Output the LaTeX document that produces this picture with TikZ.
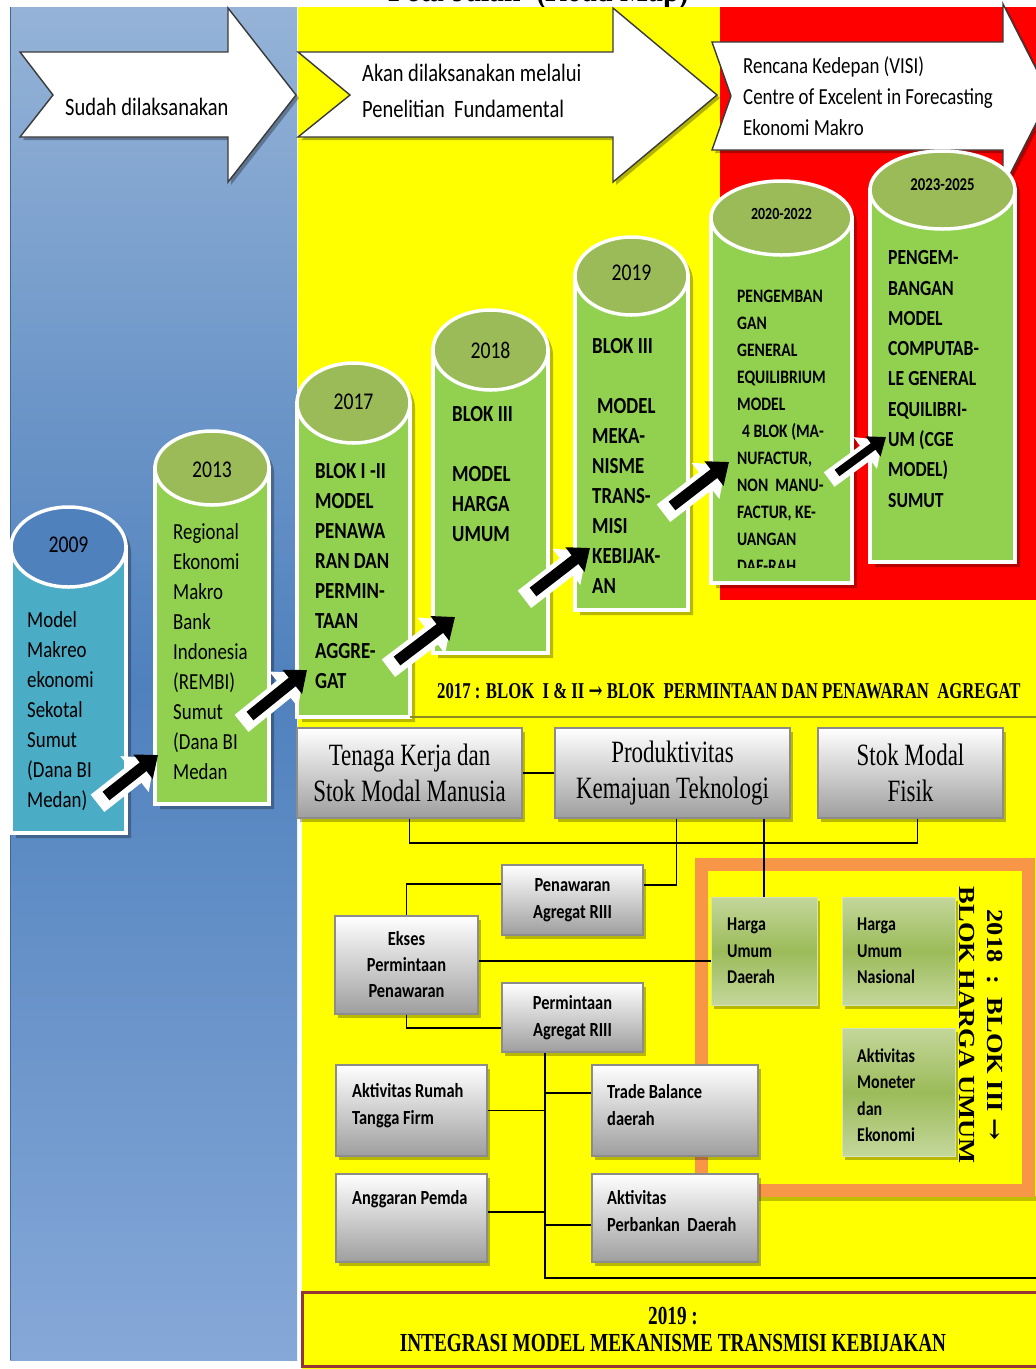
\documentclass[tikz,border=0pt]{standalone}
\usepackage{fontspec}
\setmainfont{Carlito}[FakeStretch=0.82]
\newfontfamily\serifc{Liberation Serif}[FakeStretch=0.74]
\newfontfamily\serifw{Liberation Serif}[FakeStretch=1.15]
\newfontfamily\symc{DejaVu Serif}[FakeStretch=0.74]
\newfontfamily\symw{DejaVu Serif}[FakeStretch=1.15]
\usetikzlibrary{arrows.meta,calc}
\newcommand\fsz[2]{\fontsize{#1}{#2}\selectfont}

\definecolor{bgyellow}{HTML}{FFFF00}
\definecolor{bgred}{HTML}{FF0000}
\definecolor{panelA}{HTML}{95B3D7}
\definecolor{panelB}{HTML}{4F81BD}
\definecolor{panelC}{HTML}{86A8D8}
\definecolor{cylbody}{HTML}{92D050}
\definecolor{cyltop}{HTML}{9BBB59}
\definecolor{tealbody}{HTML}{4BACC6}
\definecolor{bluetop}{HTML}{4F81BD}
\definecolor{frameorange}{HTML}{F79646}
\definecolor{lightgreen}{HTML}{C4D79B}
\definecolor{midgreen}{HTML}{9BBB59}
\definecolor{darkred}{HTML}{943634}
\definecolor{outline}{HTML}{3A3A3A}
\definecolor{yshadow}{HTML}{8C8C20}

% cylinder: centre x, top-ellipse y, x radius, y radius, bottom y, body colour, top colour
\newcommand\drawcyl[7]{%
  \fill[black, opacity=.28] ({#1-#3+5},{#2+5}) arc[start angle=180, end angle=0, x radius=#3pt, y radius=#4pt]
     -- ({#1+#3+5},{#5+5}) -- ({#1-#3+5},{#5+5}) -- cycle;
  \draw[white, line width=3.5pt, fill=#6] ({#1-#3},#2) rectangle ({#1+#3},#5);
  \draw[white, line width=3.5pt, fill=#7] (#1,#2) ellipse [x radius=#3pt, y radius=#4pt];
}

\begin{document}
\begin{tikzpicture}[x=1pt, y=-1pt,
  chev/.style={fill=white, draw=outline, line width=1.4pt, line join=miter},
  chevshade/.style={fill=black, opacity=.3},
  link/.style={draw=black, line width=1.8pt},
  capt/.style={inner sep=0, anchor=west, align=left, text=black},
  yearlbl/.style={inner sep=0, text=black},
  gbox/.style={draw=black!45, line width=1.2pt, top color=white, bottom color=black!38,
     inner sep=0, align=center,
     preaction={fill=black, opacity=.28, transform canvas={shift={(3pt,-4pt)}}}},
  grbox/.style={draw=lightgreen!70!white, line width=1pt, top color=lightgreen,
     bottom color=lightgreen, middle color=midgreen, inner sep=0,
     preaction={fill=black, opacity=.28, transform canvas={shift={(3pt,-4pt)}}}},
  barW/.style={white, line width=22pt, -{Triangle[length=26pt,width=44pt]},
     shorten <=-7pt, transform canvas={shift={(-3pt,-3pt)}}},
  barB/.style={black, line width=11pt, -{Triangle[length=19pt,width=30pt]}},
  sbarW/.style={white, line width=18pt, -{Triangle[length=22pt,width=38pt]},
     shorten <=-6pt, transform canvas={shift={(-3pt,-3pt)}}},
  sbarB/.style={black, line width=8pt, -{Triangle[length=16pt,width=24pt]}},
]
\useasboundingbox (0,0) rectangle (1036,1369);
\clip (0,0) rectangle (1036,1369);

% ---------- page and coloured panels ----------
\fill[white] (0,0) rectangle (1036,1369);
\node[anchor=base east, inner sep=0, font=\serifc\bfseries\fsz{40}{44}] (title) at (690,1) {Peta Jalan\ \ (Road Map)};
\shade[top color=panelA, bottom color=panelC, middle color=panelB] (10,7) rectangle (297,1360);
\draw[panelB!80!black, line width=1pt] (10.5,7) -- (10.5,1360);
\fill[bgyellow] (298,7) rectangle (1036,1369);
\fill[bgred] (720,7) rectangle (1036,600);
\fill[white] (297.5,818) rectangle (301.5,1369);

% ---------- phase arrows ----------
\fill[chevshade, shift={(3,3)}] (20,52) -- (228,52) -- (228,8) -- (296,95) -- (228,182) -- (228,137) -- (20,137) -- (53,95) -- cycle;
\path[chev] (20,52) -- (228,52) -- (228,8) -- (296,95) -- (228,182) -- (228,137) -- (20,137) -- (53,95) -- cycle;
\fill[chevshade, shift={(3,3)}] (298,52) -- (613,52) -- (613,8) -- (717,95) -- (613,182) -- (613,137) -- (298,137) -- (350,95) -- cycle;
\path[chev] (298,52) -- (613,52) -- (613,8) -- (717,95) -- (613,182) -- (613,137) -- (298,137) -- (350,95) -- cycle;
\fill[chevshade, shift={(3,3)}] (712,42) -- (1003,42) -- (1003,4) -- (1050,96) -- (1003,188) -- (1003,150) -- (712,150) -- (731,96) -- cycle;
\path[chev] (712,42) -- (1003,42) -- (1003,4) -- (1050,96) -- (1003,188) -- (1003,150) -- (712,150) -- (731,96) -- cycle;

\node[capt, font=\fsz{25}{30}] (done) at (65,107) {Sudah dilaksanakan};
\node[capt, font=\fsz{25}{36}] (plan) at (362,91) {Akan dilaksanakan melalui\\Penelitian\ \ Fundamental};
\node[capt, font=\fsz{23}{31}] (visi) at (743,96) {Rencana Kedepan (VISI)\\Centre of Excelent in Forecasting\\Ekonomi Makro};

% ---------- cylinders ----------
\drawcyl{68.5}{547}{57.5}{40}{833}{tealbody}{bluetop}
\drawcyl{212}{468}{57}{37}{804}{cylbody}{cyltop}
\drawcyl{353.5}{403}{56.5}{40}{717}{cylbody}{cyltop}
\drawcyl{490.5}{350}{57.5}{40}{653}{cylbody}{cyltop}
\drawcyl{631.5}{276}{56.5}{39}{610}{cylbody}{cyltop}
\drawcyl{781.5}{218}{70.5}{37}{583}{cylbody}{cyltop}
\drawcyl{942.5}{190}{72.5}{39}{562}{cylbody}{cyltop}

\node[yearlbl, font=\fsz{24}{26}] (y09) at (68.5,545) {2009};
\node[yearlbl, font=\fsz{24}{26}] (y13) at (212,470) {2013};
\node[yearlbl, font=\fsz{24}{26}] (y17) at (353.5,402) {2017};
\node[yearlbl, font=\fsz{24}{26}] (y18) at (490.5,350) {2018};
\node[yearlbl, font=\fsz{24}{26}] (y19) at (631.5,273) {2019};
\node[yearlbl, font=\bfseries\fsz{17}{20}] (y20) at (781.5,214) {2020-2022};
\node[yearlbl, font=\bfseries\fsz{18}{20}] (y23) at (942.5,185) {2023-2025};

\node[capt, font=\fsz{23}{30}] (t09) at (27,711) {Model\\Makreo\\ekonomi\\Sekotal\\Sumut\\(Dana BI\\Medan)};
\node[capt, font=\fsz{23}{30}] (t13) at (173,652) {Regional\\Ekonomi\\Makro\\Bank\\Indonesia\\(REMBI)\\Sumut\\(Dana BI\\Medan};
\node[capt, font=\bfseries\fsz{23}{30}] (t17) at (315,576) {BLOK I -II\\MODEL\\PENAWA\\RAN DAN\\PERMIN-\\TAAN\\AGGRE-\\GAT};
\node[capt, font=\bfseries\fsz{23}{30}] (t18) at (452,474) {BLOK III\\[30pt]MODEL\\HARGA\\UMUM};
\node[capt, font=\bfseries\fsz{23}{30}] (t19) at (592,466) {BLOK III\\[30pt]\hspace{5pt}MODEL\\MEKA-\\NISME\\TRANS-\\MISI\\KEBIJAK-\\AN};
\begin{scope}
  \clip (711,230) rectangle (852,567);
  \node[capt, font=\bfseries\fsz{19}{27}] (t20) at (737,431) {PENGEMBAN\\GAN\\GENERAL\\EQUILIBRIUM\\MODEL\\\hspace{5pt}4 BLOK (MA-\\NUFACTUR,\\NON\ \ MANU-\\FACTUR, KE-\\UANGAN\\DAE-RAH};
\end{scope}
\node[capt, font=\bfseries\fsz{21.5}{30.3}] (t23) at (888,379) {PENGEM-\\BANGAN\\MODEL\\COMPUTAB-\\LE GENERAL\\EQUILIBRI-\\UM (CGE\\MODEL)\\SUMUT};

% ---------- progression arrows ----------
\coordinate (a1t) at (106,796);  \coordinate (a1h) at (158,755);
\coordinate (a2t) at (250,716);  \coordinate (a2h) at (307,670);
\coordinate (a3t) at (397,661);  \coordinate (a3h) at (455,617);
\coordinate (a4t) at (533,592);  \coordinate (a4h) at (590,548);
\coordinate (a5t) at (672,506);  \coordinate (a5h) at (729,462);
\coordinate (a6t) at (837,473);  \coordinate (a6h) at (886,437);
\foreach \i in {1,...,5}{
  \draw[barW] (a\i t) -- (a\i h);
  \draw[barB] (a\i t) -- (a\i h);
}
\draw[sbarW] (a6t) -- (a6h);
\draw[sbarB] (a6t) -- (a6h);

% ---------- block I & II ----------
\draw[yshadow, line width=2.5pt] (410,717) -- (1036,717);
\node[anchor=west, inner sep=0, font=\serifc\bfseries\fsz{22.6}{26}] (blok12) at (437,691)
  {2017 : BLOK\ \ I \& II {\symc\bfseries →} BLOK\ \ PERMINTAAN DAN PENAWARAN\ \ AGREGAT};

% ---------- block III frame ----------
\fill[black, opacity=.25] (696,1196) rectangle (1036,1201);
\draw[frameorange, line width=13pt] (701.5,864.5) rectangle (1028.5,1190);
\node[rotate=-90, inner sep=0, align=center, font=\serifw\bfseries\fsz{23}{28}] (blok3) at (981,1025)
  {2018\ \ :\ \ BLOK III\ {\symw →}\\BLOK HARGA UMUM};

% ---------- boxes ----------
\node[gbox, minimum width=225pt, minimum height=90pt, font=\serifc\fsz{31}{36}] (tk) at (409.5,773) {Tenaga Kerja dan\\Stok Modal Manusia};
\node[gbox, minimum width=235pt, minimum height=90pt, font=\serifc\fsz{31}{36}] (pk) at (672.5,773) {Produktivitas\\Kemajuan Teknologi};
\node[gbox, minimum width=185pt, minimum height=90pt, font=\serifc\fsz{31}{36}] (sm) at (910.5,773) {Stok Modal\\Fisik};

\node[gbox, minimum width=141pt, minimum height=70pt, font=\bfseries\fsz{20}{27}] (pa) at (572.5,900) {Penawaran\\Agregat RIII};
\node[gbox, minimum width=143pt, minimum height=98pt, font=\bfseries\fsz{20}{26}] (ek) at (406.5,965) {Ekses\\Permintaan\\Penawaran};
\node[gbox, minimum width=141pt, minimum height=69pt, font=\bfseries\fsz{20}{27}] (pm) at (572.5,1017.5) {Permintaan\\Agregat RIII};

\node[gbox, minimum width=151pt, minimum height=91pt] (ar) at (411.5,1110.5) {};
\node[gbox, minimum width=151pt, minimum height=88pt] (ap) at (411.5,1218) {};
\node[gbox, minimum width=166pt, minimum height=91pt] (tb) at (675,1110.5) {};
\node[gbox, minimum width=166pt, minimum height=88pt] (pb) at (675,1218) {};
\node[capt, font=\bfseries\fsz{20}{27}] (arl) at (352,1105.5) {Aktivitas Rumah\\Tangga Firm};
\node[capt, font=\bfseries\fsz{20}{27}] (apl) at (352,1199) {Anggaran Pemda};
\node[capt, font=\bfseries\fsz{20}{27}] (tbl) at (607,1105.5) {Trade Balance\\daerah};
\node[capt, font=\bfseries\fsz{20}{27}] (pbl) at (607,1211.5) {Aktivitas\\Perbankan\ \ Daerah};

\node[grbox, minimum width=106pt, minimum height=108pt] (hd) at (764,951) {};
\node[grbox, minimum width=113pt, minimum height=108pt] (hn) at (898.5,951) {};
\node[grbox, minimum width=113pt, minimum height=128pt] (am) at (898.5,1092) {};
\node[capt, font=\bfseries\fsz{19.5}{26.5}] (hdl) at (727,951) {Harga\\Umum\\Daerah};
\node[capt, font=\bfseries\fsz{19.5}{26.5}] (hnl) at (857,951) {Harga\\Umum\\Nasional};
\node[capt, font=\bfseries\fsz{19.5}{26.5}] (aml) at (857,1095) {Aktivitas\\Moneter\\dan\\Ekonomi};

% ---------- connectors ----------
\coordinate (busy) at (0,843);
\coordinate (smb) at ([xshift=7pt]sm.south);
\coordinate (pkb) at ([xshift=4pt]pk.south);
\coordinate (paE) at ([yshift=15pt]pa.east);
\coordinate (paW) at ([yshift=16pt]pa.west);
\coordinate (ekE) at ([yshift=4pt]ek.east);
\coordinate (pmW) at ([yshift=-10.5pt]pm.west);
\coordinate (pmb) at ([xshift=-27.5pt]pm.south);
\coordinate (busend) at (1040,1278);
\coordinate (tbW) at ([yshift=17.5pt]tb.west);
\coordinate (apE) at ([yshift=6pt]ap.east);
\coordinate (pbW) at ([yshift=-7pt]pb.west);

\draw[link] (tk.east) -- (pk.west);
\draw[link] (tk.south) -- (tk.south |- busy) -- (smb |- busy) -- (smb);
\draw[link] (pkb) |- (paE);
\draw[link] (hd.north) -- (hd.north |- pk.south);
\draw[link] (paW) -| (ek.north);
\draw[link] (ekE) -- (ekE -| hd.west);
\draw[link] (ek.south) |- (pmW);
\draw[link] (pmb) |- (busend);
\draw[link] (ar.east) -- (ar.east -| pmb);
\draw[link] (apE) -- (apE -| pmb);
\draw[link] (tbW) -- (tbW -| pmb);
\draw[link] (pbW) -- (pbW -| pmb);

% ---------- integration box ----------
\node[draw=darkred, line width=3pt, fill=bgyellow, minimum width=742pt, minimum height=74pt,
  inner sep=0, align=center, font=\serifc\bfseries\fsz{26}{27}] (integ) at (673,1329)
  {2019 :\\INTEGRASI MODEL MEKANISME TRANSMISI KEBIJAKAN};
\end{tikzpicture}
\end{document}
